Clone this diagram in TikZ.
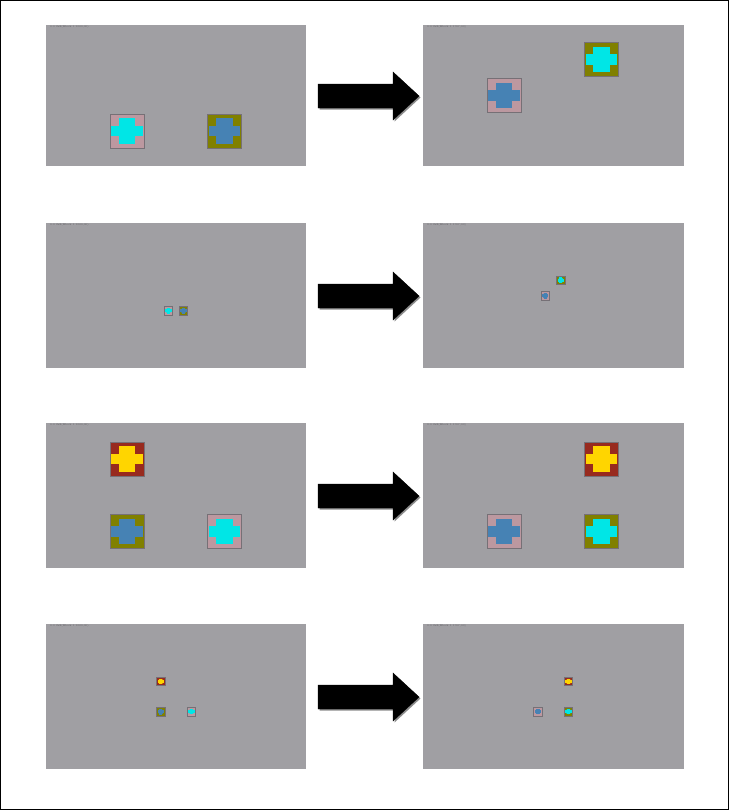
\documentclass[tikz,border=0pt]{standalone}
\usepackage{tikz}
\definecolor{panelgray}{RGB}{160,159,163}
\definecolor{pinkc}{RGB}{188,152,160}
\definecolor{cyanc}{RGB}{0,230,230}
\definecolor{bluec}{RGB}{70,130,180}
\definecolor{olivec}{RGB}{128,128,0}
\definecolor{redc}{RGB}{152,42,30}
\definecolor{yellowc}{RGB}{255,213,0}
\definecolor{edgec}{RGB}{118,112,118}
\definecolor{tinytext}{RGB}{95,93,98}
\tikzset{
  panel/.style={fill=panelgray, draw=none, inner sep=0pt, anchor=north west},
  tiny/.style={font=\fontsize{2.6}{2.8}\selectfont, text=tinytext, inner sep=0pt, anchor=north west},
  bigarrow/.style={fill=black, draw=black, line width=0.4pt},
  arrowshadow/.style={fill=black!45, draw=none},
}
% \tile{left}{top}{size}{bg}{fg}{name}
\newcommand\tile[6]{%
  \begin{scope}[shift={(#1,#2)}, x=#3pt, y=-#3pt]
    \fill[#4] (0,0) rectangle (1,1);
    \fill[#5] (0.03,0.34) rectangle (0.97,0.66);
    \fill[#5] (0.26,0.12) rectangle (0.74,0.88);
    \draw[edgec, line width=0.9pt] (0,0) rectangle (1,1);
    \node[inner sep=0pt, minimum size=#3pt] (#6) at (0.5,0.5) {};
  \end{scope}}
\newcommand\smalltile[6]{%
  \begin{scope}[shift={(#1,#2)}, x=#3pt, y=-#3pt]
    \fill[#4] (0,0) rectangle (1,1);
    \fill[#5] (0.12,0.34) rectangle (0.88,0.66);
    \fill[#5] (0.3,0.16) rectangle (0.7,0.84);
    \fill[#5] (0.5,0.5) circle [x radius=0.34, y radius=0.3];
    \draw[edgec, line width=0.6pt] (0,0) rectangle (1,1);
    \node[inner sep=0pt, minimum size=#3pt] (#6) at (0.5,0.5) {};
  \end{scope}}
\newcommand\bigarrowat[2]{%
  \begin{scope}[shift={(0,#1)}]
    \fill[arrowshadow] (319.5,85.5) -- (394.5,85.5) -- (394.5,73.5) -- (420.5,97.5) -- (394.5,121.5) -- (394.5,109.5) -- (319.5,109.5) -- cycle;
    \filldraw[bigarrow] (318,84) -- (393,84) -- (393,72) -- (419,96) -- (393,120) -- (393,108) -- (318,108) -- cycle;
    \coordinate (#2) at (368,96);
  \end{scope}}
\begin{document}
\begin{tikzpicture}[x=1pt, y=-1pt]
\useasboundingbox (0,0) rectangle (730,811);
\fill[white] (0,0) rectangle (730,811);
\draw[black, line width=1.2pt] (0.8,0.8) rectangle (728.6,809.6);

% panels
\node[panel, minimum width=260pt, minimum height=141pt] (p1l) at (46,25) {};
\node[panel, minimum width=261pt, minimum height=141pt] (p1r) at (423,25) {};
\node[panel, minimum width=260pt, minimum height=145pt] (p2l) at (46,223) {};
\node[panel, minimum width=261pt, minimum height=145pt] (p2r) at (423,223) {};
\node[panel, minimum width=260pt, minimum height=145pt] (p3l) at (46,423) {};
\node[panel, minimum width=261pt, minimum height=145pt] (p3r) at (423,423) {};
\node[panel, minimum width=260pt, minimum height=145pt] (p4l) at (46,624) {};
\node[panel, minimum width=261pt, minimum height=145pt] (p4r) at (423,624) {};

% tiny captions
\node[tiny] (t1l) at (50,25.4) {0.0 2x2(Block 1 1000,00)};
\node[tiny] (t1r) at (427,25.4) {0.0 2x2(Block 1 1'00',00)};
\node[tiny] (t2l) at (50,223.4) {0.0 2x2(Block 1 1000,00)};
\node[tiny] (t2r) at (427,223.4) {0.0 2x2(Block 1 1'00',00)};
\node[tiny] (t3l) at (50,423.4) {0.0 2x2(Block 1 1000,00)};
\node[tiny] (t3r) at (427,423.4) {0.0 2x2(Block 1 1'00',00)};
\node[tiny] (t4l) at (50,624.4) {0.0 2x2(Block 1 1000,00)};
\node[tiny] (t4r) at (427,624.4) {0.0 2x2(Block 1 1'00',00)};

% arrows
\bigarrowat{0}{a1}
\bigarrowat{200}{a2}
\bigarrowat{400}{a3}
\bigarrowat{601}{a4}

% row 1
\tile{110}{114}{34}{pinkc}{cyanc}{r1a}
\tile{207.5}{114}{34}{olivec}{bluec}{r1b}
\tile{584.5}{42.5}{34}{olivec}{cyanc}{r1c}
\tile{487}{78.5}{34}{pinkc}{bluec}{r1d}

% row 2
\smalltile{164.2}{306.6}{8.4}{pinkc}{cyanc}{r2a}
\smalltile{179.3}{306.6}{8.4}{olivec}{bluec}{r2b}
\smalltile{556.6}{276}{8.4}{olivec}{cyanc}{r2c}
\smalltile{541}{291.6}{8.4}{pinkc}{bluec}{r2d}

% row 3
\tile{110}{442}{34}{redc}{yellowc}{r3a}
\tile{110}{514.5}{34}{olivec}{bluec}{r3b}
\tile{207.5}{514.5}{34}{pinkc}{cyanc}{r3c}
\tile{584.5}{442}{34}{redc}{yellowc}{r3d}
\tile{487}{514.5}{34}{pinkc}{bluec}{r3e}
\tile{584.5}{514.5}{34}{olivec}{cyanc}{r3f}

% row 4
\smalltile{156.6}{677.3}{8.4}{redc}{yellowc}{r4a}
\smalltile{156.6}{707.6}{8.4}{olivec}{bluec}{r4b}
\smalltile{187.2}{707.4}{8.4}{pinkc}{cyanc}{r4c}
\smalltile{564.3}{677.3}{8.4}{redc}{yellowc}{r4d}
\smalltile{533.7}{707.4}{8.4}{pinkc}{bluec}{r4e}
\smalltile{564.2}{707.4}{8.4}{olivec}{cyanc}{r4f}
\end{tikzpicture}
\end{document}
